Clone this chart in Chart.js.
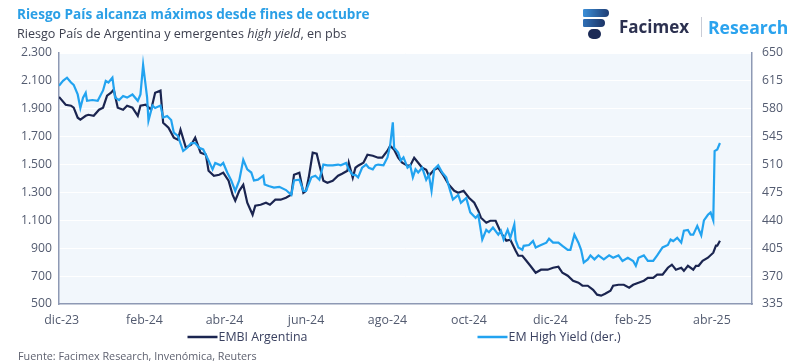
<!DOCTYPE html>
<html><head><meta charset="utf-8">
<script src="https://cdn.jsdelivr.net/npm/chart.js@4/dist/chart.umd.min.js"></script>
<style>
html,body{margin:0;padding:0;background:#fff;width:800px;height:364px;overflow:hidden;font-family:'Open Sans',sans-serif}
#wrap{position:relative;width:800px;height:364px}
#c{position:absolute;left:0;top:0}
.t1{position:absolute;left:17px;top:4px;font-weight:700;font-size:13.6px;color:#2a9fe6;white-space:nowrap}
.t2{position:absolute;left:17px;top:25px;font-weight:500;font-size:12.6px;color:#3c3f4e;white-space:nowrap}
.foot{position:absolute;left:18px;top:348px;font-size:10.8px;color:#5f6270;white-space:nowrap}
.logo{position:absolute;left:583px;top:9px;width:26px;height:31px}
.logo div{position:absolute}
.brand{position:absolute;left:619px;top:15px;font-weight:700;font-size:17px;color:#2c3150;white-space:nowrap}
.sep{position:absolute;left:701px;top:17px;width:1px;height:20px;background:#c9ccd6}
.res{position:absolute;left:708px;top:15px;font-weight:700;font-size:17.6px;color:#2ba3ee;white-space:nowrap}
</style></head>
<body><div id="wrap">
<canvas id="c" width="800" height="364"></canvas>
<div class="t1">Riesgo País alcanza máximos desde fines de octubre</div>
<div class="t2">Riesgo País de Argentina y emergentes <i>high yield</i>, en pbs</div>
<div class="logo">
  <div style="left:0;top:0;width:26px;height:8px;background:linear-gradient(90deg,#3b8fd8,#1f3d74);border-radius:2px 6px 6px 2px"></div>
  <div style="left:0;top:10px;width:22px;height:8px;background:linear-gradient(90deg,#2f6fb5,#1c3466);border-radius:2px 6px 6px 2px"></div>
  <div style="left:5px;top:20px;width:13px;height:10px;background:#1b2a55;border-radius:5px"></div>
</div>
<div class="brand">Facimex</div>
<div class="sep"></div>
<div class="res">Research</div>
<div class="foot">Fuente: Facimex Research, Invenómica, Reuters</div>
</div>
<script>
// ---- DATA ----
const embiDates = ['2023-11-29','2023-12-04','2023-12-08','2023-12-10','2023-12-13','2023-12-15','2023-12-19','2023-12-21','2023-12-25','2023-12-29',
'2024-01-01','2024-01-04','2024-01-07','2024-01-09','2024-01-12','2024-01-16','2024-01-19','2024-01-23','2024-01-27','2024-01-29',
'2024-02-02','2024-02-06','2024-02-09','2024-02-13','2024-02-15','2024-02-19','2024-02-23','2024-02-26','2024-02-28','2024-03-03',
'2024-03-07','2024-03-10','2024-03-14','2024-03-18','2024-03-20','2024-03-24','2024-03-28','2024-03-31','2024-04-04','2024-04-07',
'2024-04-09','2024-04-12','2024-04-15','2024-04-18','2024-04-22','2024-04-24','2024-04-28','2024-05-02','2024-05-05','2024-05-09',
'2024-05-13','2024-05-17','2024-05-21','2024-05-23','2024-05-27','2024-05-30','2024-06-01','2024-06-03','2024-06-06','2024-06-09',
'2024-06-11','2024-06-14','2024-06-17','2024-06-21','2024-06-25','2024-06-28','2024-07-02','2024-07-03','2024-07-06','2024-07-08',
'2024-07-10','2024-07-14','2024-07-17','2024-07-21','2024-07-25','2024-07-28','2024-08-01','2024-08-03','2024-08-06','2024-08-09',
'2024-08-12','2024-08-16','2024-08-18','2024-08-21','2024-08-24','2024-08-27','2024-08-30','2024-09-01','2024-09-05','2024-09-08',
'2024-09-12','2024-09-16','2024-09-20','2024-09-23','2024-09-27','2024-10-01','2024-10-05','2024-10-08','2024-10-10','2024-10-14',
'2024-10-17','2024-10-21','2024-10-25','2024-10-29','2024-11-01','2024-11-05','2024-11-07','2024-11-10','2024-11-13','2024-11-16',
'2024-11-20','2024-11-24','2024-11-29','2024-12-03','2024-12-07','2024-12-10','2024-12-14','2024-12-18','2024-12-22','2024-12-25',
'2024-12-29','2025-01-02','2025-01-05','2025-01-08','2025-01-11','2025-01-15','2025-01-17','2025-01-21','2025-01-25','2025-01-29',
'2025-02-01','2025-02-05','2025-02-09','2025-02-12','2025-02-16','2025-02-19','2025-02-23','2025-02-27','2025-03-02','2025-03-05',
'2025-03-09','2025-03-11','2025-03-14','2025-03-18','2025-03-20','2025-03-22','2025-03-25','2025-03-29','2025-04-02','2025-04-04',
'2025-04-05','2025-04-07'];
const embiValues = [1985,1929,1922,1908,1836,1822,1850,1857,1850,1893,
1908,1994,2015,2037,1908,1893,1922,1908,1850,1922,
1929,1893,2015,2030,1800,1764,1693,1678,1750,1621,
1642,1693,1585,1571,1456,1420,1427,1442,1384,1284,
1241,1312,1355,1226,1140,1205,1212,1226,1212,1248,
1248,1262,1284,1427,1442,1298,1312,1405,1585,1578,
1499,1384,1370,1384,1420,1434,1456,1513,1405,1477,
1492,1513,1571,1563,1549,1549,1599,1635,1606,1549,
1513,1492,1492,1549,1513,1477,1463,1420,1463,1477,
1420,1355,1312,1298,1312,1262,1226,1169,1119,1083,
1097,1097,1011,954,961,882,846,846,810,774,
724,746,746,760,767,724,703,667,653,631,
631,602,567,560,574,595,631,638,638,617,
638,653,667,688,688,710,710,760,782,746,
760,738,774,746,774,774,810,832,868,918,
918,954];

const hyDates = ['2023-11-29','2023-12-02','2023-12-05','2023-12-08','2023-12-10','2023-12-13','2023-12-15','2023-12-17','2023-12-19','2023-12-20',
'2023-12-24','2023-12-28','2024-01-01','2024-01-03','2024-01-05','2024-01-08','2024-01-10','2024-01-13','2024-01-16','2024-01-19',
'2024-01-23','2024-01-27','2024-01-29','2024-01-31','2024-02-03','2024-02-04','2024-02-07','2024-02-09','2024-02-13','2024-02-15',
'2024-02-18','2024-02-21','2024-02-23','2024-02-26','2024-03-01','2024-03-04','2024-03-07','2024-03-10','2024-03-13','2024-03-16',
'2024-03-20','2024-03-23','2024-03-25','2024-03-29','2024-03-31','2024-04-03','2024-04-06','2024-04-09','2024-04-12','2024-04-15',
'2024-04-18','2024-04-21','2024-04-23','2024-04-26','2024-04-30','2024-05-01','2024-05-04','2024-05-08','2024-05-12','2024-05-17',
'2024-05-21','2024-05-23','2024-05-27','2024-05-30','2024-06-01','2024-06-05','2024-06-08','2024-06-11','2024-06-14','2024-06-17',
'2024-06-21','2024-06-25','2024-06-27','2024-07-01','2024-07-03','2024-07-06','2024-07-08','2024-07-10','2024-07-13','2024-07-16',
'2024-07-18','2024-07-21','2024-07-23','2024-07-25','2024-07-29','2024-08-01','2024-08-03','2024-08-05','2024-08-06','2024-08-09',
'2024-08-11','2024-08-13','2024-08-16','2024-08-18','2024-08-20','2024-08-22','2024-08-24','2024-08-27','2024-08-30','2024-09-01',
'2024-09-03','2024-09-05','2024-09-08','2024-09-11','2024-09-14','2024-09-17','2024-09-19','2024-09-23','2024-09-25','2024-09-29',
'2024-10-02','2024-10-06','2024-10-08','2024-10-11','2024-10-14','2024-10-16','2024-10-19','2024-10-23','2024-10-25','2024-10-27',
'2024-10-30','2024-11-01','2024-11-04','2024-11-05','2024-11-07','2024-11-10','2024-11-11','2024-11-15','2024-11-18','2024-11-20',
'2024-11-24','2024-11-28','2024-11-30','2024-12-03','2024-12-07','2024-12-10','2024-12-14','2024-12-16','2024-12-19','2024-12-22',
'2024-12-24','2024-12-26','2024-12-29','2024-12-31','2025-01-03','2025-01-06','2025-01-10','2025-01-14','2025-01-17','2025-01-21',
'2025-01-24','2025-01-28','2025-02-01','2025-02-03','2025-02-05','2025-02-09','2025-02-12','2025-02-16','2025-02-19','2025-02-23',
'2025-02-27','2025-03-01','2025-03-03','2025-03-06','2025-03-09','2025-03-11','2025-03-14','2025-03-16','2025-03-18','2025-03-21',
'2025-03-24','2025-03-26','2025-03-29','2025-03-31','2025-04-02','2025-04-03','2025-04-05','2025-04-07'];
const hyValues = [609,615,619,613,610,598,581,594,600,590,
591,590,603,615,613,619,594,591,596,594,
598,590,598,635,594,565,584,581,584,569,
571,566,550,546,527,531,537,537,531,529,
515,504,512,509,512,500,490,477,490,516,
504,500,490,491,496,485,483,481,482,478,
472,490,491,477,477,494,496,491,510,509,
509,510,509,512,504,497,497,494,506,510,
506,504,509,510,509,519,534,563,531,525,
515,519,506,509,494,504,500,506,491,497,
477,504,509,500,494,477,466,472,462,468,
450,443,447,416,428,425,431,422,427,416,
428,418,435,415,406,403,408,409,414,406,
409,412,417,412,412,408,403,403,422,412,
403,387,391,396,391,396,391,396,393,396,
389,393,389,383,393,396,389,389,396,406,
409,416,414,418,412,427,428,422,422,433,
421,440,447,450,440,527,529,537];

const tickDates  = ['2023-12-01','2024-02-01','2024-04-01','2024-06-01','2024-08-01','2024-10-01','2024-12-01','2025-02-01','2025-04-01'];
const tickLabels = ['dic-23','feb-24','abr-24','jun-24','ago-24','oct-24','dic-24','feb-25','abr-25'];
const seriesNames = ['EMBI Argentina','EM High Yield (der.)'];

// ---- helpers ----
const START = Date.UTC(2023,11,1);
const toDay = s => { const p = s.split('-').map(Number); return (Date.UTC(p[0],p[1]-1,p[2]) - START) / 86400000; };
const tickDays = tickDates.map(toDay);
const fmtThousands = v => String(v).replace(/\B(?=(\d{3})+(?!\d))/g, '.');

const NAVY = '#1b2550', SKY = '#22a3f0', TICK = '#535b70', AXIS = '#8e99b4';
const FONT = "'Open Sans', sans-serif";

const bgPlugin = {
  id: 'plotBg',
  beforeDraw(chart) {
    const {ctx, chartArea: a} = chart;
    ctx.save(); ctx.fillStyle = '#f2f7fc';
    ctx.fillRect(a.left, a.top, a.right - a.left, a.bottom - a.top);
    ctx.restore();
  }
};
const legendPlugin = {
  id: 'spreadLegend',
  afterDraw(chart) {
    const {ctx, chartArea: a} = chart;
    const cx = (a.left + a.right) / 2, y = 337;
    const starts = [cx - 218, cx + 72];
    chart.data.datasets.forEach(ds => {
      const x = starts[ds.legendIndex];
      ctx.save();
      ctx.strokeStyle = ds.borderColor; ctx.lineWidth = 2.5;
      ctx.beginPath(); ctx.moveTo(x, y); ctx.lineTo(x + 30, y); ctx.stroke();
      ctx.fillStyle = '#3a4160'; ctx.font = "500 12.4px " + FONT;
      ctx.textBaseline = 'middle'; ctx.textAlign = 'left';
      ctx.fillText(ds.label, x + 31, y);
      ctx.restore();
    });
  }
};

new Chart(document.getElementById('c'), {
  type: 'line',
  data: {
    datasets: [
      { label: seriesNames[1], legendIndex: 1, yAxisID: 'y1', order: 0,
        data: hyDates.map((d, i) => ({x: toDay(d), y: hyValues[i]})),
        borderColor: SKY, borderWidth: 2.2, pointRadius: 0, tension: 0 },
      { label: seriesNames[0], legendIndex: 0, yAxisID: 'y', order: 1,
        data: embiDates.map((d, i) => ({x: toDay(d), y: embiValues[i]})),
        borderColor: NAVY, borderWidth: 2.2, pointRadius: 0, tension: 0 }
    ]
  },
  options: {
    responsive: false, animation: false,
    layout: { padding: { top: 53, bottom: 36, left: 0, right: 0 } },
    plugins: { legend: { display: false }, tooltip: { enabled: false } },
    scales: {
      x: {
        type: 'linear', min: -2, max: 517,
        grid: { display: false, drawTicks: false },
        border: { display: true, color: AXIS, width: 1.5 },
        afterBuildTicks: s => { s.ticks = tickDays.map(v => ({value: v})); },
        afterFit: s => { s.height = 24; },
        ticks: { autoSkip: false, maxRotation: 0, padding: 9, color: TICK,
          font: { family: FONT, size: 12.4, weight: '500' },
          callback: (v, i) => tickLabels[i] }
      },
      y: {
        position: 'left', min: 500, max: 2300,
        afterFit: s => { s.width = 59; },
        grid: { color: '#ffffff', lineWidth: 1, drawTicks: false },
        border: { display: true, color: AXIS, width: 1.5 },
        ticks: { stepSize: 200, padding: 7, color: TICK,
          font: { family: FONT, size: 12.2, weight: '500' },
          callback: v => fmtThousands(v) }
      },
      y1: {
        position: 'right', min: 335, max: 650,
        afterFit: s => { s.width = 48; },
        grid: { display: false, drawTicks: false },
        border: { display: true, color: AXIS, width: 1.5 },
        ticks: { stepSize: 35, padding: 10, color: TICK,
          font: { family: FONT, size: 12.2, weight: '500' } }
      }
    }
  },
  plugins: [bgPlugin, legendPlugin]
});
</script>
</body></html>
